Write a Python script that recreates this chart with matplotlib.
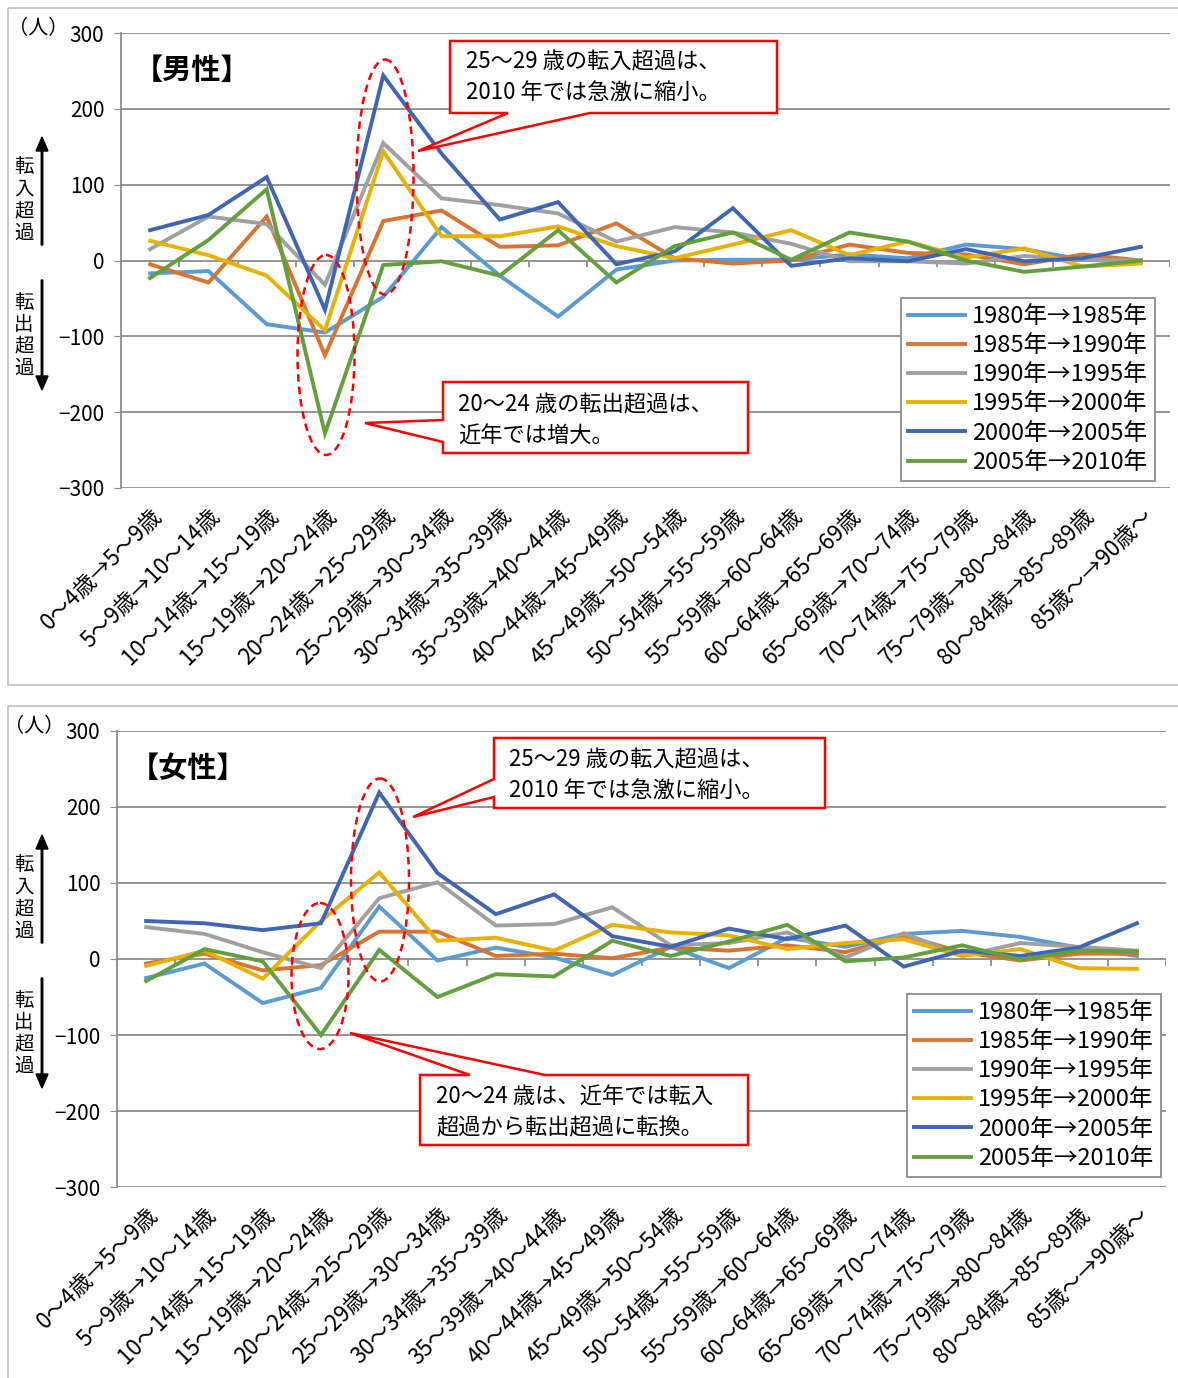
import numpy as np
import matplotlib
matplotlib.use('Agg')
import matplotlib.pyplot as plt
from matplotlib.patches import Ellipse, Polygon, Rectangle, FancyArrow

plt.rcParams['font.family'] = ['Noto Sans CJK JP', 'DejaVu Sans']

# categories (age group shift over 5 years)
categories = ['0～4歳→5～9歳', '5～9歳→10～14歳', '10～14歳→15～19歳', '15～19歳→20～24歳',
              '20～24歳→25～29歳', '25～29歳→30～34歳', '30～34歳→35～39歳', '35～39歳→40～44歳',
              '40～44歳→45～49歳', '45～49歳→50～54歳', '50～54歳→55～59歳', '55～59歳→60～64歳',
              '60～64歳→65～69歳', '65～69歳→70～74歳', '70～74歳→75～79歳', '75～79歳→80～84歳',
              '80～84歳→85～89歳', '85歳～→90歳～']

periods = ['1980年→1985年', '1985年→1990年', '1990年→1995年',
           '1995年→2000年', '2000年→2005年', '2005年→2010年']

# male net migration (persons)
male_1980 = [-17, -14, -84, -95, -48, 44, -20, -74, -12, 0, 1, 1, 8, 3, 21, 15, 1, -2]
male_1985 = [-5, -29, 58, -125, 52, 66, 18, 20, 49, 3, -4, 0, 21, 10, 8, -5, 8, 0]
male_1990 = [15, 58, 48, -32, 155, 82, 73, 62, 25, 44, 37, 22, -1, -1, -4, 6, 1, 0]
male_1995 = [26, 7, -20, -92, 144, 32, 32, 45, 19, 3, 21, 40, 7, 25, 4, 16, -8, -4]
male_2000 = [40, 60, 110, -65, 244, 141, 54, 77, -5, 12, 69, -7, 3, -1, 15, -1, 3, 18]
male_2005 = [-23, 27, 94, -228, -6, -1, -20, 40, -29, 19, 37, 1, 37, 25, 0, -15, -8, 0]

# female net migration (persons)
female_1980 = [-25, -6, -58, -38, 69, -2, 15, 2, -21, 16, -12, 28, 16, 33, 37, 29, 15, 4]
female_1985 = [-6, 7, -15, -8, 36, 36, 4, 7, 1, 15, 11, 18, 9, 31, 9, -2, 7, 7]
female_1990 = [42, 33, 9, -12, 80, 101, 44, 46, 68, 18, 21, 35, 2, 34, 4, 21, 16, 11]
female_1995 = [-9, 11, -26, 50, 114, 24, 28, 11, 45, 35, 31, 13, 21, 26, 4, 13, -12, -13]
female_2000 = [50, 47, 38, 47, 219, 113, 59, 85, 30, 16, 40, 26, 44, -10, 11, 4, 15, 47]
female_2005 = [-29, 13, -3, -100, 12, -50, -20, -23, 24, 4, 23, 45, -3, 2, 18, -1, 11, 10]

colors = ['#5B9BD5', '#D9732F', '#A0A0A0', '#E8B100', '#3F66B5', '#62A03E']

W, H = 1178, 1378
fig = plt.figure(figsize=(W / 100, H / 100), dpi=100)


def frac(x0, y0, x1, y1):
    # pixel box -> figure fraction rect
    return [x0 / W, 1 - y1 / H, (x1 - x0) / W, (y1 - y0) / H]


def draw_panel(ax, series, title):
    x = np.arange(len(categories))
    for vals, c, lab in zip(series, colors, periods):
        ax.plot(x, vals, color=c, lw=2.8, label=lab, solid_joinstyle='miter', zorder=3)
    ax.set_xlim(-0.5, len(categories) - 0.5)
    ax.set_ylim(-300, 300)
    ax.set_yticks(range(-300, 301, 100))
    ax.set_yticklabels([str(v).replace('-', '−') for v in range(-300, 301, 100)], fontsize=15)
    ax.grid(axis='y', color='#8C8C8C', lw=1.3)
    ax.set_axisbelow(True)
    for s in ['top', 'right', 'bottom']:
        ax.spines[s].set_visible(False)
    ax.spines['left'].set_color('#8C8C8C')
    ax.spines['left'].set_linewidth(1.3)
    ax.tick_params(axis='y', length=5, color='#8C8C8C', pad=7)
    ax.tick_params(axis='x', length=0, pad=12)
    ax.set_xticks(x)
    ax.set_xticklabels(categories, rotation=45, ha='right', va='top',
                       rotation_mode='anchor', fontsize=16)
    # category tick marks hanging from the zero line
    ax.vlines(np.arange(len(categories) + 1) - 0.5, -9, 0, color='#8C8C8C', lw=1.3, zorder=2)
    ax.text(0.012, 0.918, title, transform=ax.transAxes, fontsize=21, fontweight='bold',
            va='center', ha='left')
    ax.text(-0.05, 1.01, '（人）', transform=ax.transAxes, fontsize=14.5, ha='right', va='center')


ax1 = fig.add_axes(frac(121, 33, 1170, 488))
draw_panel(ax1, [male_1980, male_1985, male_1990, male_1995, male_2000, male_2005], '【男性】')
ax2 = fig.add_axes(frac(117, 731, 1166, 1187))
draw_panel(ax2, [female_1980, female_1985, female_1990, female_1995, female_2000, female_2005], '【女性】')

for ax, box in [(ax1, (1155, 298)), (ax2, (1161, 994))]:
    leg = ax.legend(loc='upper right', bbox_to_anchor=(box[0] / W, 1 - box[1] / H),
                    bbox_transform=fig.transFigure, fontsize=17, frameon=True, fancybox=False,
                    edgecolor='#8C8C8C', framealpha=1, handlelength=2.4, handletextpad=0.3,
                    labelspacing=0.26, borderpad=0.3, borderaxespad=0)
    leg.get_frame().set_linewidth(1.3)
    leg.set_zorder(10)

# overlay in pixel coordinates for frames, callouts and side labels
ov = fig.add_axes([0, 0, 1, 1], zorder=5)
ov.set_xlim(0, W)
ov.set_ylim(H, 0)
ov.axis('off')

for (y0, y1) in [(8, 685), (706, 1385)]:
    ov.add_patch(Rectangle((8, y0), W, y1 - y0, fill=False, ec='#BFBFBF', lw=1.2))

red = '#FF0000'


def callout(pts, lines, tx, ty):
    ov.add_patch(Polygon(pts, closed=True, fc='white', ec=red, lw=1.8, zorder=6))
    for i, t in enumerate(lines):
        ov.text(tx, ty + i * 31, t, fontsize=16, va='center', ha='left', zorder=7)


# top panel callouts
callout([(450, 41), (777, 41), (777, 113), (590, 113), (418, 151), (508, 113), (450, 113)],
        ['25～29 歳の転入超過は、', '2010 年では急激に縮小。'], 466, 62)
callout([(443, 382), (748, 382), (748, 453), (443, 453), (443, 442), (365, 423), (443, 420)],
        ['20～24 歳の転出超過は、', '近年では増大。'], 458, 405)
# bottom panel callouts
callout([(494, 738), (825, 738), (825, 808), (494, 808), (494, 797), (413, 817), (494, 779)],
        ['25～29 歳の転入超過は、', '2010 年では急激に縮小。'], 509, 760)
callout([(420, 1075), (470, 1075), (350, 1033), (545, 1075), (748, 1075), (748, 1145), (420, 1145)],
        ['20～24 歳は、近年では転入', '超過から転出超過に転換。'], 436, 1097)

for cx, cy, w, h in [(385, 177, 57, 235), (326, 355, 57, 200), (380, 880, 58, 203), (320, 976, 57, 146)]:
    ov.add_patch(Ellipse((cx, cy), w, h, fill=False, ec=red, lw=1.8, ls=(0, (3, 2)), zorder=8))

# side labels with arrows
for dy in [0, 698]:
    ov.add_patch(FancyArrow(42, 245 + dy, 0, -108, width=1.5, head_width=12, head_length=14,
                            length_includes_head=True, color='black'))
    ov.add_patch(FancyArrow(42, 280 + dy, 0, 110, width=1.5, head_width=12, head_length=14,
                            length_includes_head=True, color='black'))
    for i, ch in enumerate('転入超過'):
        ov.text(24, 167 + dy + i * 22, ch, fontsize=14, ha='center', va='center')
    for i, ch in enumerate('転出超過'):
        ov.text(24, 302 + dy + i * 22, ch, fontsize=14, ha='center', va='center')

fig.savefig('out.png', dpi=100)
